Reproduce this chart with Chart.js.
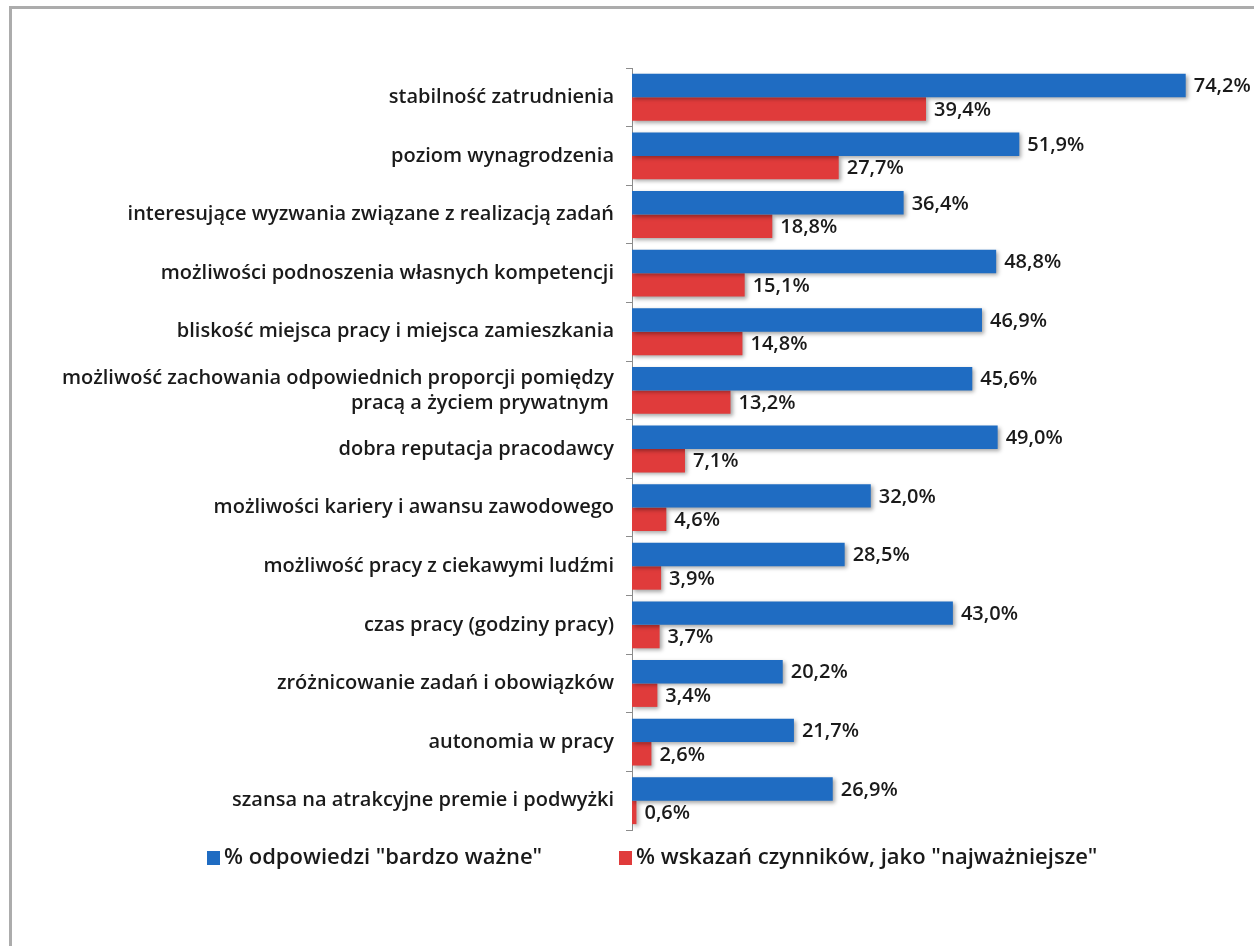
<!DOCTYPE html>
<html lang="pl">
<head>
<meta charset="utf-8">
<title>Czynniki wyboru pracodawcy</title>
<script src="https://cdn.jsdelivr.net/npm/chart.js@4.4.1/dist/chart.umd.min.js"></script>
<style>
    html, body { margin: 0; padding: 0; background: #ffffff; }
    #wrap { position: relative; width: 1254px; height: 946px; }
    #frame {
        position: absolute; left: 9px; top: 6px; right: 0; bottom: 0;
        border-left: 3px solid #acacac; border-top: 3px solid #acacac;
        pointer-events: none;
    }
    canvas { position: absolute; left: 0; top: 0; }
</style>
</head>
<body>
<div id="wrap">
    <canvas id="factorsChart" width="1254" height="946"></canvas>
    <div id="frame"></div>
</div>
<script>
// Factors ranked by share of "most important" answers
const categories = [
    'stabilność zatrudnienia',
    'poziom wynagrodzenia',
    'interesujące wyzwania związane z realizacją zadań',
    'możliwości podnoszenia własnych kompetencji',
    'bliskość miejsca pracy i miejsca zamieszkania',
    ['możliwość zachowania odpowiednich proporcji pomiędzy', 'pracą a życiem prywatnym '],
    'dobra reputacja pracodawcy',
    'możliwości kariery i awansu zawodowego',
    'możliwość pracy z ciekawymi ludźmi',
    'czas pracy (godziny pracy)',
    'zróżnicowanie zadań i obowiązków',
    'autonomia w pracy',
    'szansa na atrakcyjne premie i podwyżki'
];

const veryImportant = [74.2, 51.9, 36.4, 48.8, 46.9, 45.6, 49.0, 32.0, 28.5, 43.0, 20.2, 21.7, 26.9];
const mostImportant = [39.4, 27.7, 18.8, 15.1, 14.8, 13.2, 7.1, 4.6, 3.9, 3.7, 3.4, 2.6, 0.6];

const seriesLabels = ['% odpowiedzi "bardzo ważne"', '% wskazań czynników, jako "najważniejsze"'];
const seriesColors = ['#1f6cc2', '#e03b3b'];

const labelFont = '"Open Sans", "DejaVu Sans", sans-serif';

function formatPct(v) {
    return v.toFixed(1).replace('.', ',') + '%';
}

// Soft drop shadow under the bars
const barShadow = {
    id: 'barShadow',
    beforeDatasetsDraw(chart) {
        const ctx = chart.ctx;
        ctx.save();
        ctx.shadowColor = 'rgba(0, 0, 0, 0.35)';
        ctx.shadowBlur = 4;
        ctx.shadowOffsetX = 2;
        ctx.shadowOffsetY = 2;
    },
    afterDatasetsDraw(chart) {
        chart.ctx.restore();
    }
};

// Value text at the end of every bar
const valueLabels = {
    id: 'valueLabels',
    afterDatasetsDraw(chart) {
        const ctx = chart.ctx;
        ctx.save();
        ctx.font = '600 20px ' + labelFont;
        ctx.fillStyle = '#1a1a1a';
        ctx.textAlign = 'left';
        ctx.textBaseline = 'middle';
        chart.data.datasets.forEach((ds, i) => {
            const meta = chart.getDatasetMeta(i);
            meta.data.forEach((bar, j) => {
                ctx.fillText(formatPct(ds.data[j]), bar.x + 8, bar.y + 1);
            });
        });
        ctx.restore();
    }
};

// Legend row under the plot
const bottomLegend = {
    id: 'bottomLegend',
    afterDraw(chart) {
        const ctx = chart.ctx;
        const y = 858;
        const starts = [207, 619];
        ctx.save();
        ctx.font = '600 22px ' + labelFont;
        ctx.textBaseline = 'middle';
        chart.data.datasets.forEach((ds, i) => {
            const x = starts[i];
            ctx.fillStyle = seriesColors[i];
            ctx.fillRect(x, y - 7, 13, 14);
            ctx.fillStyle = '#1a1a1a';
            ctx.fillText(ds.label, x + 17, y);
        });
        ctx.restore();
    }
};

new Chart(document.getElementById('factorsChart'), {
    type: 'bar',
    data: {
        labels: categories,
        datasets: [
            {
                label: seriesLabels[0],
                data: veryImportant,
                backgroundColor: seriesColors[0],
                barPercentage: 1,
                categoryPercentage: 0.8
            },
            {
                label: seriesLabels[1],
                data: mostImportant,
                backgroundColor: seriesColors[1],
                barPercentage: 1,
                categoryPercentage: 0.8
            }
        ]
    },
    options: {
        indexAxis: 'y',
        responsive: false,
        animation: false,
        layout: {
            padding: { left: 0, right: 25, top: 68, bottom: 116 }
        },
        plugins: {
            legend: { display: false },
            tooltip: { enabled: false }
        },
        scales: {
            x: {
                display: false,
                min: 0,
                max: 80
            },
            y: {
                afterFit(axis) {
                    axis.width = 632;
                },
                grid: {
                    drawOnChartArea: false,
                    offset: true,
                    tickLength: 6,
                    color: '#8c8c8c'
                },
                border: { color: '#8c8c8c', width: 1 },
                ticks: {
                    color: '#1a1a1a',
                    padding: 12,
                    font: { family: labelFont, size: 20, weight: '600', lineHeight: 1.25 }
                }
            }
        }
    },
    plugins: [barShadow, valueLabels, bottomLegend]
});
</script>
</body>
</html>
